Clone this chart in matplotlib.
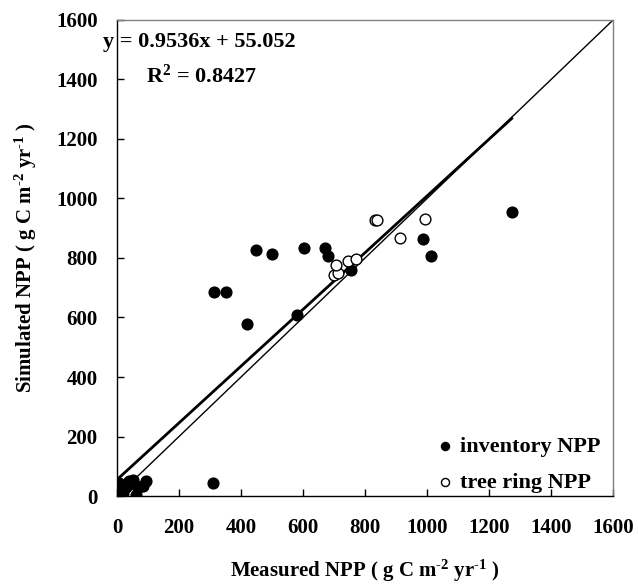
import matplotlib
matplotlib.use('Agg')
import matplotlib.pyplot as plt
import numpy as np

plt.rcParams['font.family'] = ['Liberation Serif', 'DejaVu Serif']
plt.rcParams['font.weight'] = 'bold'
plt.rcParams['mathtext.fontset'] = 'custom'
plt.rcParams['mathtext.rm'] = 'Liberation Serif:bold'
plt.rcParams['mathtext.it'] = 'Liberation Serif:bold'
plt.rcParams['mathtext.bf'] = 'Liberation Serif:bold'

# inventory NPP (measured, simulated)
inv_x = [5, 15, 20, 30, 40, 50, 55, 60, 70, 85, 95, 20,
         308, 314, 353, 420, 447, 499, 582, 604, 670, 679, 755,
         987, 1014, 1273]
inv_y = [45, 20, 35, 30, 50, 55, 40, 5, 30, 35, 50, 10,
         44, 686, 686, 579, 826, 815, 608, 834, 834, 808, 761,
         864, 808, 955]

# tree ring NPP
ring_x = [700, 712, 706, 744, 771, 832, 840, 912, 993]
ring_y = [744, 750, 776, 789, 795, 926, 928, 868, 932]

slope = 0.9536
intercept = 55.052
fit_x = [0, 1273]
ticks = [0, 200, 400, 600, 800, 1000, 1200, 1400, 1600]

fig = plt.figure(figsize=(6.38, 5.87), dpi=100)
ax = fig.add_axes([0.1834, 0.155, 0.7776, 0.811])

ax.plot([0, 1600], [0, 1600], color='black', linewidth=1.0, zorder=2)
ax.plot(fit_x, [slope * v + intercept for v in fit_x],
        color='black', linewidth=2.0, zorder=2)

ax.scatter(inv_x, inv_y, s=60, color='black', zorder=3, label='inventory NPP')
ax.scatter(ring_x, ring_y, s=60, facecolor='white', edgecolor='black',
           linewidth=1.0, zorder=3, label='tree ring NPP')

ax.set_xlim(0, 1600)
ax.set_ylim(0, 1600)
ax.set_xticks(ticks)
ax.set_yticks(ticks)
ax.tick_params(direction='in', length=5, width=1, labelsize=15,
               top=False, right=False)
ax.tick_params(axis='x', pad=16)
ax.tick_params(axis='y', pad=14)
for lab in ax.get_xticklabels() + ax.get_yticklabels():
    lab.set_fontweight('bold')

for side in ['top', 'right']:
    ax.spines[side].set_color('#808080')
    ax.spines[side].set_linewidth(1.0)
for side in ['left', 'bottom']:
    ax.spines[side].set_linewidth(1.0)

unit = r' ( g C m$^{\text{-2}}$ yr$^{\text{-1}}$ )'
ax.set_xlabel('Measured NPP' + unit, fontsize=15, fontweight='bold',
              labelpad=14)
ax.set_ylabel('Simulated NPP' + unit, fontsize=15, fontweight='bold',
              labelpad=12)

ax.text(-45, 1525, 'y = 0.9536x + 55.052', fontsize=16, fontweight='bold',
        ha='left', va='center', clip_on=False)
ax.text(95, 1411, 'R$^2$ = 0.8427', fontsize=16, fontweight='bold',
        ha='left', va='center')

ax.legend(loc='lower right', bbox_to_anchor=(0.982, 0.0), frameon=False,
          markerscale=0.75, handlelength=0.8, handletextpad=0.3,
          borderaxespad=-0.25, labelspacing=0.7,
          prop={'weight': 'bold', 'size': 16})

fig.savefig('out.png', dpi=100)
